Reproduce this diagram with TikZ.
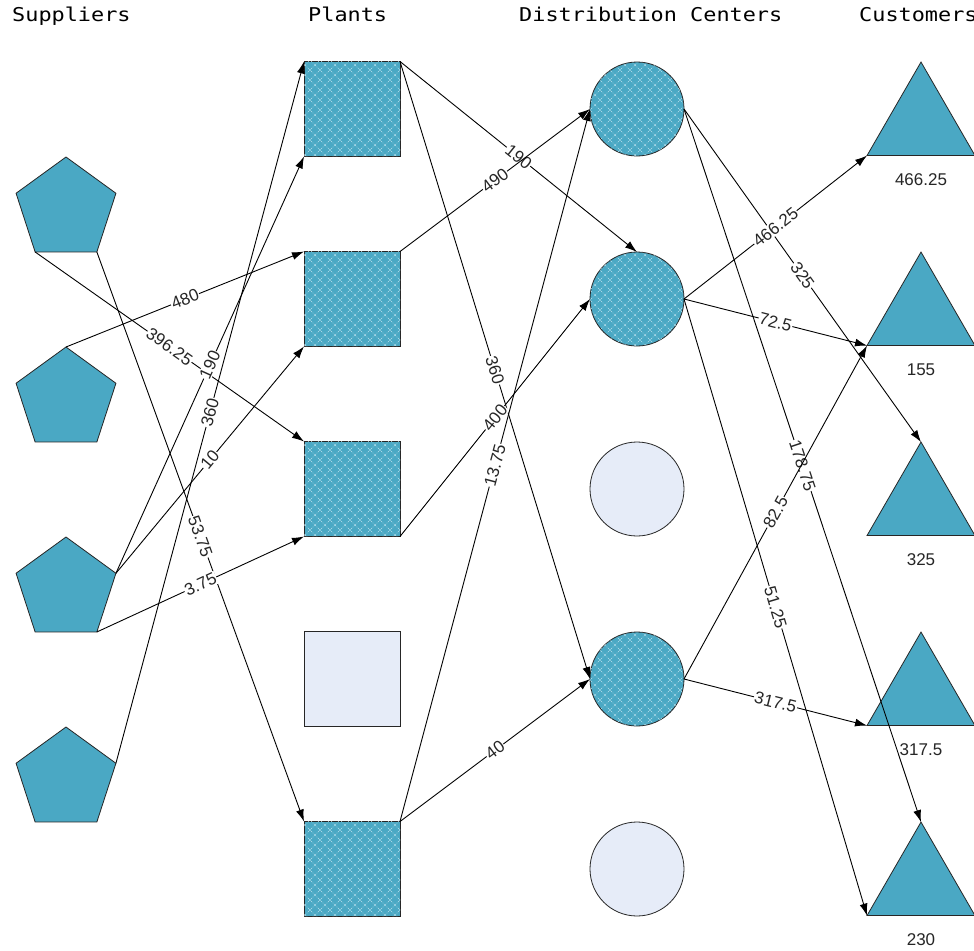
\documentclass[tikz,border=0pt]{standalone}
\usepackage{fontspec}
\newfontfamily\lblfont{Liberation Sans}
\newfontfamily\hdrfont[FakeStretch=1.15]{DejaVu Sans Mono}
\usetikzlibrary{arrows.meta,shapes.geometric,patterns.meta}
\definecolor{teal1}{RGB}{74,168,196}
\definecolor{pale}{RGB}{230,236,248}
\definecolor{hatchc}{RGB}{200,232,242}
\tikzdeclarepattern{
  name=dgrid,
  type=uncolored,
  bottom left={(-0.5pt,-0.5pt)},
  top right={(10.5pt,10.5pt)},
  tile size={(10pt,10pt)},
  code={
    \draw[line width=0.45pt, dash pattern=on 0.8pt off 1.1pt] (0pt,0pt) -- (10pt,10pt) (0pt,10pt) -- (10pt,0pt);
  }
}
\begin{document}
\begin{tikzpicture}[x=1pt,y=-1pt,
  shapeline/.style={draw=black!85, line width=0.8pt, inner sep=0pt, outer sep=0pt},
  sup/.style={shapeline, regular polygon, regular polygon sides=5, minimum size=105pt, fill=teal1},
  plant/.style={shapeline, rectangle, minimum width=96pt, minimum height=95pt},
  dc/.style={shapeline, circle, minimum size=94pt},
  cust/.style={shapeline, regular polygon, regular polygon sides=3, minimum size=124.7pt, fill=teal1},
  hatched/.style={fill=teal1, postaction={pattern=dgrid, pattern color=hatchc}},
  unused/.style={fill=pale},
  flow/.style={draw=black, line width=0.9pt, -{Latex[length=12pt,width=8pt]}},
  lbl/.style={font=\lblfont\fontsize{17}{19}\selectfont, text=black!85, fill=white, inner sep=0.8pt, sloped, pos=0.5},
  hdr/.style={font=\hdrfont\fontsize{19}{22}\selectfont, anchor=base west, inner sep=0pt},
  clbl/.style={font=\lblfont\fontsize{17}{19}\selectfont, text=black!85, inner sep=0pt}
]
\useasboundingbox (0,0) rectangle (974,950);
\fill[white] (0,0) rectangle (974,950);

% headers
\node[hdr] (h1) at (12,22) {Suppliers};
\node[hdr] (h2) at (308,22) {Plants};
\node[hdr] (h3) at (519,22) {Distribution Centers};
\node[hdr] (h4) at (859,22) {Customers};

% suppliers
\node[sup] (s1) at (66,209.5) {};
\node[sup] (s2) at (66,399.5) {};
\node[sup] (s3) at (66,589.5) {};
\node[sup] (s4) at (66,779.5) {};

% plants
\node[plant, hatched] (p1) at (352,109) {};
\node[plant, hatched] (p2) at (352,299) {};
\node[plant, hatched] (p3) at (352,489) {};
\node[plant, unused]  (p4) at (352,679) {};
\node[plant, hatched] (p5) at (352,869) {};

% distribution centers
\node[dc, hatched] (d1) at (637,109) {};
\node[dc, hatched] (d2) at (637,299) {};
\node[dc, unused]  (d3) at (637,489) {};
\node[dc, hatched] (d4) at (637,679) {};
\node[dc, unused]  (d5) at (637,869) {};

% customers
\node[cust] (c1) at (921,124.4) {};
\node[cust] (c2) at (921,314.4) {};
\node[cust] (c3) at (921,504.4) {};
\node[cust] (c4) at (921,694.4) {};
\node[cust] (c5) at (921,884.4) {};
\node[clbl] (cl1) at (921,180) {466.25};
\node[clbl] (cl2) at (921,370) {155};
\node[clbl] (cl3) at (921,560) {325};
\node[clbl] (cl4) at (921,750) {317.5};
\node[clbl] (cl5) at (921,940) {230};

% suppliers -> plants
\draw[flow] (s1.corner 3) -- node[lbl]{396.25} (p3.north west);
\draw[flow] (s1.corner 4) -- node[lbl]{53.75} (p5.north west);
\draw[flow] (s2.corner 1) -- node[lbl]{480} (p2.north west);
\draw[flow] (s3.corner 5) -- node[lbl]{190} (p1.south west);
\draw[flow] (s3.corner 5) -- node[lbl]{10} (p2.south west);
\draw[flow] (s3.corner 4) -- node[lbl]{3.75} (p3.south west);
\draw[flow] (s4.corner 5) -- node[lbl]{360} (p1.north west);

% plants -> distribution centers
\draw[flow] (p1.north east) -- node[lbl]{190} (d2.north);
\draw[flow] (p1.north east) -- node[lbl]{360} (d4.west);
\draw[flow] (p2.north east) -- node[lbl]{490} (d1.west);
\draw[flow] (p3.south east) -- node[lbl]{400} (d2.west);
\draw[flow] (p5.north east) -- node[lbl]{13.75} (d1.west);
\draw[flow] (p5.north east) -- node[lbl]{40} (d4.west);

% distribution centers -> customers
\draw[flow] (d1.east) -- node[lbl]{325} (c3.corner 1);
\draw[flow] (d1.east) -- node[lbl]{178.75} (c5.corner 1);
\draw[flow] (d2.east) -- node[lbl]{466.25} (c1.corner 2);
\draw[flow] (d2.east) -- node[lbl]{72.5} (c2.corner 2);
\draw[flow] (d2.east) -- node[lbl]{51.25} (c5.corner 2);
\draw[flow] (d4.east) -- node[lbl]{82.5} (c2.corner 2);
\draw[flow] (d4.east) -- node[lbl]{317.5} (c4.corner 2);
\end{tikzpicture}
\end{document}
